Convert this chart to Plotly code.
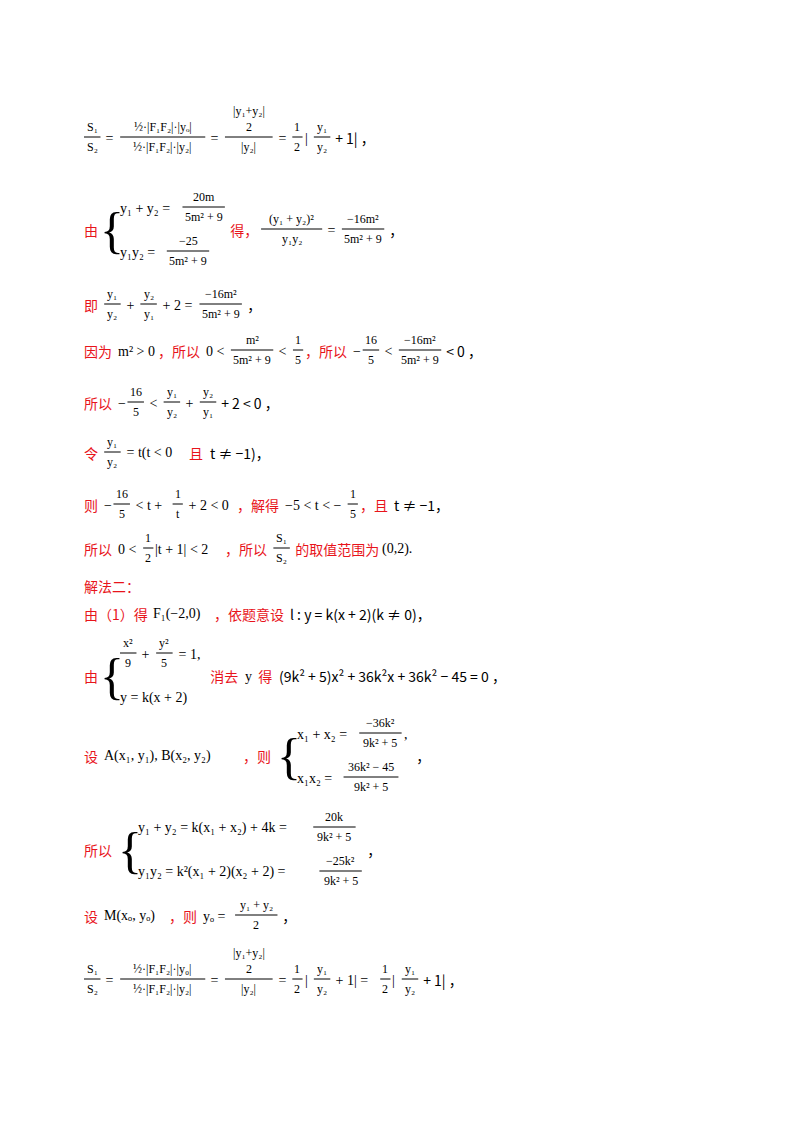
import plotly.graph_objects as go

RED = "#e8141b"
BLK = "#000000"
FS = 14
SER = "Liberation Serif"
CJK = "Noto Sans CJK SC"

def T(s, c=BLK): return ("t", s, c)
def F(n, d): return ("f", n, d)
def S(a, b): return ("s", a, b)

Q = F("|y₁+y₂|<br>2", "|y₂|")
line_specs = [
    (130, [F("S₁", "S₂"), T(" = "), F("½·|F₁F₂|·|yₒ|", "½·|F₁F₂|·|y₂|"), T(" = "), Q, T(" = "), F("1", "2"), T("|"), F("y₁", "y₂"), T(" + 1| ，")]),
    (222, [T("由", RED), S([T("y₁ + y₂ = "), F("20m", "5m² + 9")], [T("y₁y₂ = "), F("−25", "5m² + 9")]), T(" 得，", RED), F("(y₁ + y₂)²", "y₁y₂"), T(" = "), F("−16m²", "5m² + 9"), T(" ，")]),
    (297, [T("即 ", RED), F("y₁", "y₂"), T(" + "), F("y₂", "y₁"), T(" + 2 = "), F("−16m²", "5m² + 9"), T(" ，")]),
    (343, [T("因为 ", RED), T("m² > 0"), T("，所以 ", RED), T("0 < "), F("m²", "5m² + 9"), T(" < "), F("1", "5"), T("，所以 ", RED), T("−"), F("16", "5"), T(" < "), F("−16m²", "5m² + 9"), T(" < 0 ，")]),
    (395, [T("所以 ", RED), T("−"), F("16", "5"), T(" < "), F("y₁", "y₂"), T(" + "), F("y₂", "y₁"), T(" + 2 < 0 ，")]),
    (445, [T("令 ", RED), F("y₁", "y₂"), T(" = t(t < 0 "), T("且 ", RED), T("t ≠ −1)，")]),
    (497, [T("则 ", RED), T("−"), F("16", "5"), T(" < t + "), F("1", "t"), T(" + 2 < 0 "), T("，解得 ", RED), T("−5 < t < −"), F("1", "5"), T("，且 ", RED), T("t ≠ −1，")]),
    (541, [T("所以 ", RED), T("0 < "), F("1", "2"), T("|t + 1| < 2"), T("，所以 ", RED), F("S₁", "S₂"), T(" 的取值范围为", RED), T("(0,2).")]),
    (578, [T("解法二：", RED)]),
    (606, [T("由（1）得 ", RED), T("F₁(−2,0)"), T("，依题意设 ", RED), T("l : y = k(x + 2)(k ≠ 0)，")]),
    (668, [T("由", RED), S([F("x²", "9"), T(" + "), F("y²", "5"), T(" = 1,")], [T("y = k(x + 2)")]), T(" 消去 ", RED), T("y"), T(" 得 ", RED), T("(9k² + 5)x² + 36k²x + 36k² − 45 = 0 ，")]),
    (748, [T("设 ", RED), T("A(x₁, y₁), B(x₂, y₂)"), T("，则 ", RED), S([T("x₁ + x₂ = "), F("−36k²", "9k² + 5"), T(",")], [T("x₁x₂ = "), F("36k² − 45", "9k² + 5")]), T(" ，")]),
    (842, [T("所以 ", RED), S([T("y₁ + y₂ = k(x₁ + x₂) + 4k = "), F("20k", "9k² + 5")], [T("y₁y₂ = k²(x₁ + 2)(x₂ + 2) = "), F("−25k²", "9k² + 5")]), T(" ，")]),
    (908, [T("设 ", RED), T("M(xₒ, yₒ)"), T("，则 ", RED), T("yₒ = "), F("y₁ + y₂", "2"), T(" ，")]),
    (972, [F("S₁", "S₂"), T(" = "), F("½·|F₁F₂|·|y₀|", "½·|F₁F₂|·|y₂|"), T(" = "), Q, T(" = "), F("1", "2"), T("|"), F("y₁", "y₂"), T(" + 1| = "), F("1", "2"), T("|"), F("y₁", "y₂"), T(" + 1| ，")]),
]

def tw(s, size):
    w = 0
    for ch in s:
        if ord(ch) > 0x2E80: w += size
        elif ch == " ": w += size * 0.3
        else: w += size * 0.52
    return w + 2

ann, shapes = [], []

def nb(s): return s.replace(" ", "\u00a0")

def add_text(x, y, s, c, size=FS):
    font = CJK if any(ord(ch) > 0x2E80 for ch in s) else SER
    ann.append(dict(x=x, y=y, text=nb(s), showarrow=False, xanchor="left", yanchor="middle",
                    borderpad=0, font=dict(family=font, size=size, color=c)))

def width(seg):
    if seg[0] == "t": return tw(seg[1], FS)
    if seg[0] == "f":
        return max(max(tw(p, 12) for p in seg[1].split("<br>")), tw(seg[2], 12)) + 4
    return 20 + max(sum(width(s) for s in seg[1]), sum(width(s) for s in seg[2]))

def render(segs, x, y):
    for seg in segs:
        w = width(seg)
        if seg[0] == "t":
            add_text(x, y, seg[1], seg[2])
        elif seg[0] == "f":
            ann.append(dict(x=x + w / 2, y=y - 3, text=nb(seg[1]), showarrow=False, xanchor="center", yanchor="bottom",
                            borderpad=0, font=dict(family=SER, size=12, color=BLK)))
            ann.append(dict(x=x + w / 2, y=y + 1, text=nb(seg[2]), showarrow=False, xanchor="center", yanchor="top",
                            borderpad=0, font=dict(family=SER, size=12, color=BLK)))
            shapes.append(dict(type="line", x0=x + 1, x1=x + w - 1, y0=y - 1, y1=y - 1,
                               line=dict(color=BLK, width=1)))
        else:
            ann.append(dict(x=x, y=y, text="{", showarrow=False, xanchor="left", yanchor="middle",
                            borderpad=0, font=dict(family=SER, size=50, color=BLK)))
            render(seg[1], x + 20, y - 22)
            render(seg[2], x + 20, y + 22)
        x += w
    return x

for y, segs in line_specs:
    render(segs, 75, y)

fig = go.Figure()
fig.update_layout(width=800, height=1132, margin=dict(l=0, r=0, t=0, b=0),
                  paper_bgcolor="white", plot_bgcolor="white",
                  xaxis=dict(range=[0, 800], visible=False, fixedrange=True),
                  yaxis=dict(range=[1132, 0], visible=False, fixedrange=True),
                  annotations=ann, shapes=shapes, showlegend=False)
fig.write_html("out.html")
